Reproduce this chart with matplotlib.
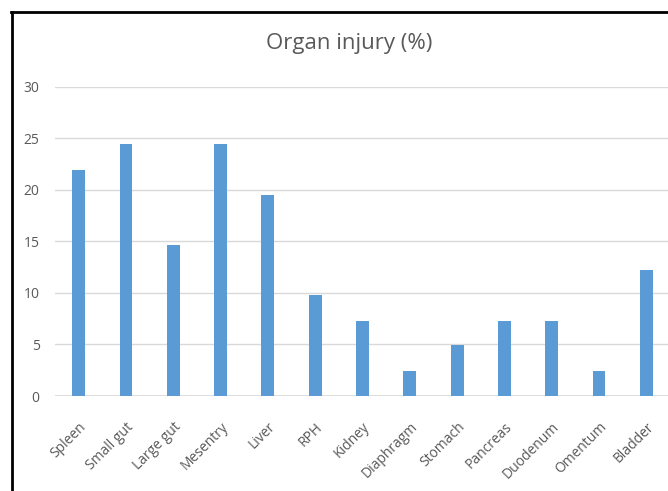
import matplotlib.pyplot as plt
from matplotlib.lines import Line2D
import numpy as np

organs = ['Spleen', 'Small gut', 'Large gut', 'Mesentry', 'Liver', 'RPH', 'Kidney',
          'Diaphragm', 'Stomach', 'Pancreas', 'Duodenum', 'Omentum', 'Bladder']
injury_pct = [21.9, 24.4, 14.6, 24.4, 19.5, 9.8, 7.3, 2.4, 4.9, 7.3, 7.3, 2.4, 12.2]
y_ticks = [0, 5, 10, 15, 20, 25, 30]

plt.rcParams['font.family'] = ['Open Sans', 'DejaVu Sans']
text_col = '#595959'

W, H = 668, 491
fig = plt.figure(figsize=(W / 100, H / 100), dpi=100)
ax = fig.add_axes([55 / W, 1 - 396 / H, (670 - 55) / W, (396 - 86.5) / H])

x = np.arange(len(organs))
ax.bar(x, injury_pct, width=0.27, color='#5B9BD5', zorder=3)

ax.set_xlim(-0.5, len(organs) - 0.5)
ax.set_ylim(0, 30)
ax.set_yticks(y_ticks)
ax.yaxis.grid(True, color='#D9D9D9', linewidth=1.0, zorder=0)
ax.axhline(0, color='#D9D9D9', linewidth=1.2, zorder=2)
for s in ax.spines.values():
    s.set_visible(False)

ax.tick_params(axis='y', length=0, pad=11, labelsize=10, labelcolor=text_col)
ax.tick_params(axis='x', length=0, pad=17, labelsize=10, labelcolor=text_col)
ax.set_xticks(x)
ax.set_xticklabels(organs, rotation=45, ha='right', va='top', rotation_mode='anchor')

fig.text(349 / W, 1 - 44 / H, 'Organ injury (%)', ha='center', va='center',
         fontsize=16, color=text_col)

# frame around the chart (left and top edges)
fig.add_artist(Line2D([11.5 / W, 11.5 / W], [0, 1 - 12 / H], color='black',
                      linewidth=2, transform=fig.transFigure))
fig.add_artist(Line2D([10.5 / W, 1], [1 - 12 / H, 1 - 12 / H], color='black',
                      linewidth=2, transform=fig.transFigure))

fig.savefig('out.png', dpi=100)
